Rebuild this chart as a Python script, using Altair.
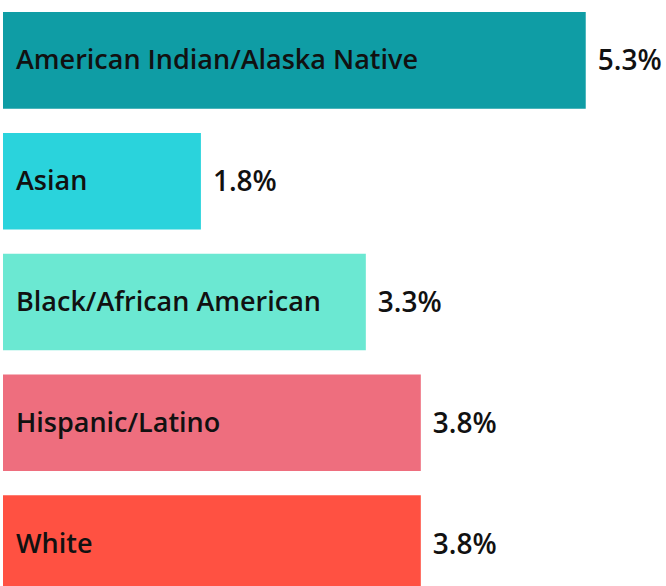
import altair as alt
import pandas as pd

categories = ["American Indian/Alaska Native", "Asian", "Black/African American", "Hispanic/Latino", "White"]
values = [5.3, 1.8, 3.3, 3.8, 3.8]
labels = ["5.3%", "1.8%", "3.3%", "3.8%", "3.8%"]
colors = ["#0F9DA5", "#2AD3DC", "#6BE8D2", "#EE6E7E", "#FF5142"]

df = pd.DataFrame({"cat": categories, "val": values, "lab": labels})

y = alt.Y("cat:N", sort=categories, axis=None,
          scale=alt.Scale(paddingInner=0.2, paddingOuter=0.1))
x = alt.X("val:Q", axis=None, scale=alt.Scale(domain=[0, 6.03], nice=False, zero=True))

bars = alt.Chart(df).mark_bar().encode(
    x=x, y=y,
    color=alt.Color("cat:N", scale=alt.Scale(domain=categories, range=colors), legend=None),
)

cat_text = alt.Chart(df).mark_text(
    align="left", baseline="middle", dx=13, dy=1, font="Open Sans", fontSize=27,
    fontWeight=600, color="#111111"
).encode(x=alt.value(0), y=y, text="cat:N")

val_text = alt.Chart(df).mark_text(
    align="left", baseline="middle", dx=12, dy=2, font="Open Sans", fontSize=28,
    fontWeight=600, color="#111111"
).encode(x=x, y=y, text="lab:N")

chart = (bars + cat_text + val_text).properties(
    width=663, height=604,
    autosize=alt.AutoSizeParams(type="none"),
    padding={"left": 3, "top": 0, "right": 0, "bottom": 0},
).configure_view(stroke=None)

chart.save("out.html", embed_options={"renderer": "svg", "actions": False})
